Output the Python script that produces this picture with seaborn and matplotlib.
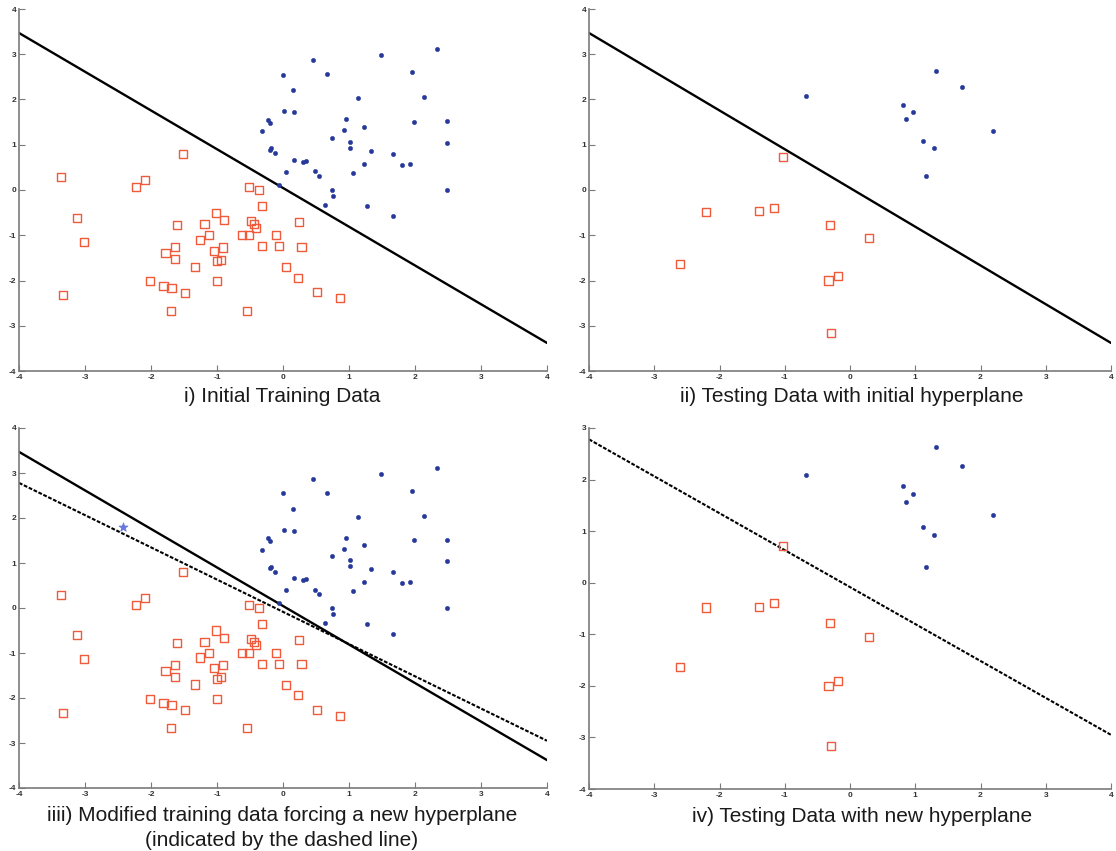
import matplotlib
matplotlib.use("Agg")
import matplotlib.pyplot as plt
import seaborn as sns

# Training set: positive class (blue dots)
train_pos_x = [0.46, 1.49, 2.34, 0.00, 0.67, 1.95, 0.15, 1.13, 2.14, 0.02, 0.16, -0.22,
               -0.19, 0.96, 1.99, 2.48, -0.32, 0.93, 1.23, 0.74, 1.01, 1.02, 2.48, -0.18,
               -0.19, -0.12, 1.33, 1.67, 0.16, 0.31, 0.35, 1.23, 1.81, 1.93, 0.05, 0.48,
               0.54, 1.06, -0.06, 0.74, 0.75, 2.48, 0.63, 1.28, 1.66]
train_pos_y = [2.87, 2.98, 3.12, 2.55, 2.56, 2.61, 2.20, 2.03, 2.05, 1.74, 1.72, 1.55,
               1.48, 1.56, 1.51, 1.52, 1.30, 1.32, 1.39, 1.15, 1.06, 0.93, 1.04, 0.92,
               0.88, 0.81, 0.86, 0.80, 0.66, 0.62, 0.64, 0.58, 0.55, 0.58, 0.40, 0.41,
               0.32, 0.38, 0.11, -0.01, -0.13, -0.01, -0.34, -0.35, -0.58]

# Training set: negative class (red squares)
train_neg_x = [-1.52, -3.36, -2.23, -2.09, -0.52, -0.37, -0.32, -3.12, -3.01, -1.02,
               -0.89, -1.60, -1.19, -0.48, -0.44, -0.41, 0.24, -1.12, -1.26, -0.62,
               -0.52, -0.11, -1.64, -1.04, -0.91, -0.32, -0.06, 0.28, -1.78, -1.63,
               -1.00, -0.94, -1.33, 0.05, 0.23, -2.02, -1.00, -1.81, -1.69, -1.49,
               -3.33, 0.51, 0.86, -1.70, -0.54]
train_neg_y = [0.79, 0.28, 0.07, 0.22, 0.07, 0.00, -0.36, -0.61, -1.14, -0.50,
               -0.66, -0.78, -0.75, -0.69, -0.75, -0.83, -0.71, -1.00, -1.10, -1.00,
               -1.00, -0.99, -1.26, -1.34, -1.27, -1.24, -1.24, -1.25, -1.40, -1.53,
               -1.57, -1.54, -1.70, -1.71, -1.94, -2.02, -2.02, -2.12, -2.16, -2.27,
               -2.33, -2.26, -2.39, -2.67, -2.67]

# Testing set
test_pos_x = [-0.68, 1.32, 1.72, 0.81, 0.96, 0.86, 2.19, 1.12, 1.28, 1.17]
test_pos_y = [2.08, 2.64, 2.27, 1.87, 1.72, 1.57, 1.31, 1.08, 0.92, 0.31]
test_neg_x = [-1.03, -2.21, -1.40, -1.16, -0.31, 0.29, -2.61, -0.19, -0.33, -0.29]
test_neg_y = [0.72, -0.48, -0.47, -0.40, -0.78, -1.06, -1.63, -1.91, -2.00, -3.16]

# Injected training point that shifts the hyperplane
injected_x = [-2.43]
injected_y = [1.80]

# Separating hyperplanes evaluated at the ends of the x range
line_x = [-4, 4]
initial_line_y = [3.47, -3.38]
new_line_y = [2.78, -2.95]

captions = [
    "i) Initial Training Data",
    "ii) Testing Data with initial hyperplane",
    "iiii) Modified training data forcing a new hyperplane\n(indicated by the dashed line)",
    "iv) Testing Data with new hyperplane",
]

BLUE = "#26399a"
RED = "#ef5a3a"
STAR = "#6677dd"
AXIS_GRAY = "#7a7a7a"

sns.set_style("ticks")
plt.rcParams["font.family"] = ["Liberation Sans", "DejaVu Sans"]
plt.rcParams["axes.unicode_minus"] = False

fig = plt.figure(figsize=(11.16, 8.51), dpi=100)

W, H = 1116.0, 851.0


def make_axes(left, top, right, bottom):
    return fig.add_axes([left / W, 1 - bottom / H, (right - left) / W, (bottom - top) / H])


ax1 = make_axes(19, 9, 547, 371)
ax2 = make_axes(589, 9, 1111, 371)
ax3 = make_axes(19, 428, 547, 788)
ax4 = make_axes(589, 428, 1111, 789)


def draw_points(ax, px, py, nx, ny):
    sns.scatterplot(x=nx, y=ny, ax=ax, marker="s", s=34, facecolors="none",
                    edgecolor=RED, linewidth=1.0, zorder=3)
    sns.scatterplot(x=px, y=py, ax=ax, marker="o", s=10, color=BLUE,
                    edgecolor=BLUE, linewidth=0.3, zorder=3)


def draw_line(ax, ys, dashed=False):
    if dashed:
        sns.lineplot(x=line_x, y=ys, ax=ax, color="black", linewidth=1.5,
                     linestyle=(0, (1.8, 0.8)), zorder=2)
    else:
        sns.lineplot(x=line_x, y=ys, ax=ax, color="black", linewidth=1.7, zorder=2)


draw_points(ax1, train_pos_x, train_pos_y, train_neg_x, train_neg_y)
draw_line(ax1, initial_line_y)

draw_points(ax2, test_pos_x, test_pos_y, test_neg_x, test_neg_y)
draw_line(ax2, initial_line_y)

draw_points(ax3, train_pos_x, train_pos_y, train_neg_x, train_neg_y)
sns.scatterplot(x=injected_x, y=injected_y, ax=ax3, marker="*", s=45, color=STAR,
                edgecolor=STAR, linewidth=0.6, zorder=3)
draw_line(ax3, initial_line_y)
draw_line(ax3, new_line_y, dashed=True)

draw_points(ax4, test_pos_x, test_pos_y, test_neg_x, test_neg_y)
draw_line(ax4, new_line_y, dashed=True)

for ax, ytop in [(ax1, 4), (ax2, 4), (ax3, 4), (ax4, 3)]:
    ax.set_xlim(-4, 4)
    ax.set_ylim(-4, ytop)
    ax.set_xticks(range(-4, 5))
    ax.set_yticks(range(-4, ytop + 1))
    ax.set_xlabel("")
    ax.set_ylabel("")
    ax.set_facecolor("white")
    for side in ("top", "right"):
        ax.spines[side].set_visible(False)
    for side in ("left", "bottom"):
        ax.spines[side].set_color(AXIS_GRAY)
        ax.spines[side].set_linewidth(1.2)
    ax.tick_params(direction="in", length=4, width=0.8, color=AXIS_GRAY,
                   labelsize=6, labelcolor="#333333", pad=2)
    for lab in ax.get_xticklabels() + ax.get_yticklabels():
        lab.set_fontweight("bold")

CAP_SIZE = 15
fig.text(282 / W, 1 - 396 / H, captions[0], ha="center", va="center",
         fontsize=CAP_SIZE, color="#1a1a1a")
fig.text(852 / W, 1 - 396 / H, captions[1], ha="center", va="center",
         fontsize=CAP_SIZE, color="#1a1a1a")
fig.text(282 / W, 1 - 828 / H, captions[2], ha="center", va="center",
         fontsize=CAP_SIZE, color="#1a1a1a", linespacing=1.4)
fig.text(862 / W, 1 - 816 / H, captions[3], ha="center", va="center",
         fontsize=CAP_SIZE, color="#1a1a1a")

fig.savefig("out.png", dpi=100, facecolor="white")
